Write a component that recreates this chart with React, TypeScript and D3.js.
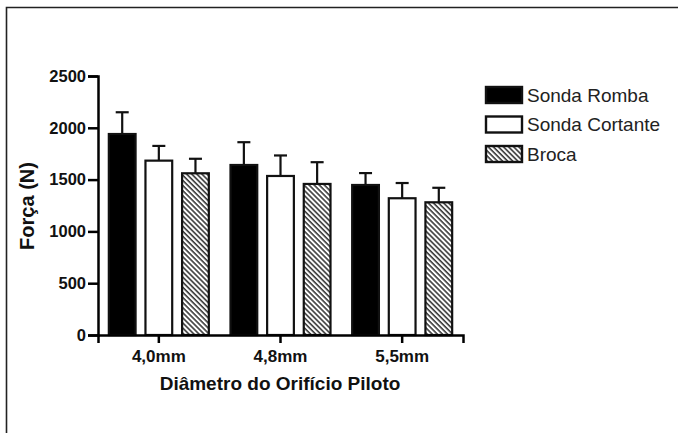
import React, { useEffect, useRef } from 'react';
import * as d3 from 'd3';

const diameters = ['4,0mm', '4,8mm', '5,5mm'];
const methods = ['Sonda Romba', 'Sonda Cortante', 'Broca'];
// mean force (N) per diameter, one array per method
const sondaRomba = [1940, 1641, 1448];
const sondaCortante = [1683, 1535, 1320];
const broca = [1561, 1458, 1281];
// standard deviation (upper error bar)
const sdRomba = [210, 220, 115];
const sdCortante = [142, 198, 147];
const sdBroca = [140, 210, 140];
const yTicks = [0, 500, 1000, 1500, 2000, 2500];

const means = [sondaRomba, sondaCortante, broca];
const sds = [sdRomba, sdCortante, sdBroca];
const fills = ['#000', '#fff', 'url(#hatch)'];

const W = 678;
const H = 433;
const font = 'Arial, "Liberation Sans", Helvetica, sans-serif';

const App = () => {
    const xAxisRef = useRef<SVGGElement>(null);
    const yAxisRef = useRef<SVGGElement>(null);

    const x = d3.scaleBand().domain(diameters).range([98, 463]).paddingInner(0).paddingOuter(0);
    const inner = d3.scaleBand().domain(methods).range([-50, 50]).paddingInner(0.27).paddingOuter(0);
    const y = d3.scaleLinear().domain([0, 2500]).range([335, 76]);

    useEffect(() => {
        const gx = d3.select(xAxisRef.current);
        gx.call(d3.axisBottom(x).tickSizeOuter(0).tickSize(8).tickPadding(7) as any);
        gx.select('.domain').attr('stroke-width', 2.5);
        gx.selectAll('.tick line').attr('stroke-width', 2.5);
        gx.selectAll('.tick text')
            .attr('font-family', font)
            .attr('font-size', 17)
            .attr('font-weight', 'bold')
            .attr('fill', '#111');

        const gy = d3.select(yAxisRef.current);
        gy.call(d3.axisLeft(y).tickValues(yTicks).tickFormat(d3.format('d') as any)
            .tickSizeOuter(0).tickSize(10).tickPadding(2) as any);
        gy.select('.domain').attr('stroke-width', 2.5);
        gy.selectAll('.tick line').attr('stroke-width', 2.5);
        gy.selectAll('.tick text')
            .attr('font-family', font)
            .attr('font-size', 16.5)
            .attr('font-weight', 'bold')
            .attr('fill', '#111');
    }, []);

    return (
        <svg width={W} height={H} style={{ position: 'absolute', left: 0, top: 0, background: '#fff' }}>
            <defs>
                <pattern id="hatch" patternUnits="userSpaceOnUse" width={3.6} height={3.6} patternTransform="rotate(-45)">
                    <rect width={3.6} height={3.6} fill="#fff" />
                    <line x1={1} y1={0} x2={1} y2={3.6} stroke="#3a3a3a" strokeWidth={1.6} />
                </pattern>
            </defs>

            {/* frame */}
            <path d={`M6.5,${H} V7.5 H${W}`} fill="none" stroke="#222" strokeWidth={1.6} />

            {/* bars */}
            {diameters.map((d, i) => (
                <g key={d} transform={`translate(${(x(d) ?? 0) + x.bandwidth() / 2},0)`}>
                    {methods.map((m, j) => {
                        const bx = inner(m) ?? 0;
                        const bw = inner.bandwidth();
                        const v = means[j][i];
                        const top = y(sds[j][i] + v);
                        const cx = bx + bw / 2;
                        return (
                            <g key={m}>
                                <line x1={cx} x2={cx} y1={y(v)} y2={top} stroke="#111" strokeWidth={2.2} />
                                <line x1={cx - 6.5} x2={cx + 6.5} y1={top} y2={top} stroke="#111" strokeWidth={2.2} />
                                <rect x={bx} y={y(v)} width={bw} height={y(0) - y(v)}
                                    fill={fills[j]} stroke="#111" strokeWidth={2.2} />
                            </g>
                        );
                    })}
                </g>
            ))}

            <g ref={xAxisRef} transform={`translate(0,${y(0)})`} />
            <g ref={yAxisRef} transform="translate(98,0)" />

            {/* axis titles */}
            <text x={280} y={390} textAnchor="middle" fontFamily={font} fontSize={19} fontWeight="bold" fill="#111">
                Diâmetro do Orifício Piloto
            </text>
            <text transform="translate(34,206) rotate(-90)" textAnchor="middle" fontFamily={font}
                fontSize={20} fontWeight="bold" fill="#111">
                Força (N)
            </text>

            {/* legend */}
            {methods.map((m, j) => (
                <g key={m} transform={`translate(486,${87 + j * 29.5})`}>
                    <rect x={0} y={0} width={36} height={16} fill={fills[j]} stroke="#111" strokeWidth={2.4} />
                    <text x={41} y={14.5} fontFamily={font} fontSize={19} fill="#222">{m}</text>
                </g>
            ))}
        </svg>
    );
};

export default App;
